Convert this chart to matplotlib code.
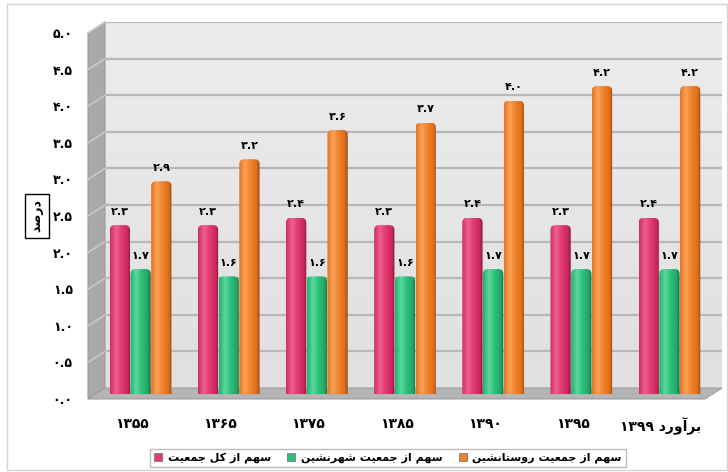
import numpy as np
import matplotlib
matplotlib.use("Agg")
import matplotlib.pyplot as plt
from matplotlib.patches import Polygon, Rectangle, FancyBboxPatch, Patch
from matplotlib.colors import LinearSegmentedColormap

# data
years = ['۱۳۵۵', '۱۳۶۵', '۱۳۷۵', '۱۳۸۵', '۱۳۹۰', '۱۳۹۵', 'برآورد ۱۳۹۹']
total = [2.3, 2.3, 2.4, 2.3, 2.4, 2.3, 2.4]
urban = [1.7, 1.6, 1.6, 1.6, 1.7, 1.7, 1.7]
rural = [2.9, 3.2, 3.6, 3.7, 4.0, 4.2, 4.2]
series_names = ['سهم از کل جمعیت', 'سهم از جمعیت شهرنشین', 'سهم از جمعیت روستانشین']
ylabel = 'درصد'

# simple arabic shaping (matplotlib has no RTL / joining)
FORMS = {
    'ا': (0xFE8D, 0xFE8E), 'آ': (0xFE81, 0xFE82),
    'د': (0xFEA9, 0xFEAA), 'ر': (0xFEAD, 0xFEAE),
    'ز': (0xFEAF, 0xFEB0), 'و': (0xFEED, 0xFEEE),
    'ب': (0xFE8F, 0xFE90, 0xFE91, 0xFE92), 'ت': (0xFE95, 0xFE96, 0xFE97, 0xFE98),
    'ج': (0xFE9D, 0xFE9E, 0xFE9F, 0xFEA0), 'س': (0xFEB1, 0xFEB2, 0xFEB3, 0xFEB4),
    'ش': (0xFEB5, 0xFEB6, 0xFEB7, 0xFEB8), 'ص': (0xFEB9, 0xFEBA, 0xFEBB, 0xFEBC),
    'ع': (0xFEC9, 0xFECA, 0xFECB, 0xFECC), 'ل': (0xFEDD, 0xFEDE, 0xFEDF, 0xFEE0),
    'م': (0xFEE1, 0xFEE2, 0xFEE3, 0xFEE4), 'ن': (0xFEE5, 0xFEE6, 0xFEE7, 0xFEE8),
    'ه': (0xFEE9, 0xFEEA, 0xFEEB, 0xFEEC), 'ک': (0xFB8E, 0xFB8F, 0xFB90, 0xFB91),
    'ی': (0xFBFC, 0xFBFD, 0xFBFE, 0xFBFF),
}


def shape_word(w):
    if w[0] not in FORMS:
        return w
    out = []
    for i, c in enumerate(w):
        f = FORMS[c]
        prev = i > 0 and len(FORMS[w[i - 1]]) == 4
        nxt = i < len(w) - 1 and len(f) == 4
        if prev and nxt:
            g = f[3]
        elif prev:
            g = f[1]
        elif nxt:
            g = f[2]
        else:
            g = f[0]
        out.append(chr(g))
    return ''.join(out[::-1])


def fa(s):
    return ' '.join(shape_word(w) for w in s.split(' ')[::-1])


def fnum(v):
    return ('%.1f' % v).translate(str.maketrans('0123456789', '۰۱۲۳۴۵۶۷۸۹'))


plt.rcParams['font.family'] = ['DejaVu Sans']

W, H = 728, 472
fig = plt.figure(figsize=(W / 100, H / 100), dpi=100)


def box(l, t, r, b):
    return [l / W, 1 - b / H, (r - l) / W, (b - t) / H]


def fp(x, y):
    return (x / W, 1 - y / H)


# outer border
fig.add_artist(Rectangle(fp(7, 470), 720 / W, 466 / H, fill=False,
                         ec='#d4d4d4', lw=1, transform=fig.transFigure))

# back wall
axb = fig.add_axes(box(105, 22, 722, 388), zorder=0)
grad = np.linspace(0, 1, 100).reshape(-1, 1)
axb.imshow(grad, extent=[0, 1, 0, 5], aspect='auto',
           cmap=LinearSegmentedColormap.from_list('w', ['#ececec', '#e0e0e0']))
for g in np.arange(0.5, 5.01, 0.5):
    axb.axhline(g, color='#b8b8b8', lw=1.6)
axb.set_xlim(0, 1)
axb.set_ylim(0, 5)
axb.axis('off')

# side wall and floor
fig.add_artist(Polygon([fp(88, 399), fp(88, 33), fp(105, 22), fp(105, 388)],
                       closed=True, fc='#a9a9a9', ec='#9a9a9a', lw=0.8,
                       transform=fig.transFigure, zorder=0.5))
for k in range(1, 11):
    yf = 399 - k * 36.6
    fig.add_artist(plt.Line2D([88 / W, 105 / W], [1 - yf / H, 1 - (yf - 11) / H],
                              color='#c8c8c8', lw=1.2, transform=fig.transFigure, zorder=0.6))
fig.add_artist(Polygon([fp(88, 399), fp(705, 399), fp(722, 388), fp(105, 388)],
                       closed=True, fc='#b4b4b4', ec='#a0a0a0', lw=0.8,
                       transform=fig.transFigure, zorder=0.5))

# bars
ax = fig.add_axes(box(96.5, 27.5, 713.5, 393.5), zorder=2)
ax.patch.set_visible(False)
x = np.arange(len(years))
bw = 0.23
off = 0.235
colors = ['#e23c70', '#2dbf7c', '#f0822c']
grads = [
    ['#cf2f63', '#ef5f8e', '#e23c70', '#cc285e', '#8a1840'],
    ['#25ae6f', '#58d99c', '#2fc07c', '#24a469', '#146e44'],
    ['#e4741f', '#f9a15a', '#f0822c', '#dc6e1c', '#984a0e'],
]
for i, (vals, c, gl) in enumerate(zip([total, urban, rural], colors, grads)):
    bars = ax.bar(x + (i - 1) * off, vals, bw, color=c)
    cmap = LinearSegmentedColormap.from_list('c%d' % i, list(zip([0, 0.28, 0.55, 0.85, 1], gl)))
    for rect, v in zip(bars, vals):
        x0, w, h = rect.get_x(), rect.get_width(), rect.get_height()
        rect.set_visible(False)
        p = FancyBboxPatch((x0, -0.2), w, h + 0.2, boxstyle='round,pad=0,rounding_size=0.055',
                           mutation_aspect=1.2, fc='none', ec='none')
        ax.add_patch(p)
        im = ax.imshow(np.linspace(0, 1, 60).reshape(1, -1), extent=[x0, x0 + w, 0, h],
                       aspect='auto', cmap=cmap, zorder=2)
        im.set_clip_path(p)
        ax.annotate(fnum(v), (x0 + w / 2, h), xytext=(0, 6), textcoords='offset points',
                    ha='center', va='bottom', fontsize=8, fontweight='bold')
ax.set_xlim(-0.5, len(years) - 0.5)
ax.set_ylim(0, 5)
ax.axis('off')

# front plane for tick labels
axf = fig.add_axes(box(88, 33, 705, 399), zorder=3)
axf.patch.set_visible(False)
axf.set_xlim(-0.5, len(years) - 0.5)
axf.set_ylim(0, 5)
yt = np.arange(0, 5.01, 0.5)
axf.set_yticks(yt)
axf.set_yticklabels([fnum(v) for v in yt], fontsize=9, fontweight='bold')
axf.set_xticks(x)
axf.set_xticklabels([fa(s) for s in years], fontsize=10, fontweight='bold')
axf.tick_params(length=0)
axf.tick_params(axis='y', pad=11)
axf.tick_params(axis='x', pad=13)
for s in axf.spines.values():
    s.set_visible(False)

# y label in a box
fig.text(37 / W, 1 - 216 / H, fa(ylabel), rotation=90, ha='center', va='center',
         fontsize=9, fontweight='bold',
         bbox=dict(boxstyle='square,pad=0.45', fc='white', ec='black', lw=1))

# legend
handles = [Patch(fc=c, ec='#7a7a7a', lw=0.6) for c in colors]
fig.legend(handles, [fa(s) for s in series_names], loc='center',
           bbox_to_anchor=(388 / W, 1 - 458 / H), ncol=3,
           prop={'weight': 'bold', 'size': 8}, fancybox=False, edgecolor='#bcbcbc',
           framealpha=1, handlelength=0.7, handleheight=0.7, handletextpad=0.5,
           columnspacing=1.5, borderpad=0.35)

fig.savefig('out.png', dpi=100)
